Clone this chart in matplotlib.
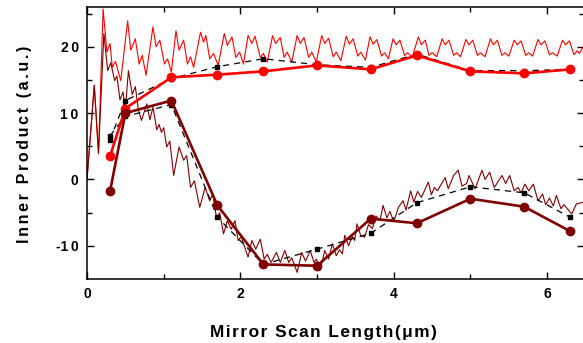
import matplotlib
matplotlib.use("Agg")
import matplotlib.pyplot as plt
from matplotlib.ticker import FixedLocator, FuncFormatter

# scan lengths of the sampled points (um)
scan_x = [0.3, 0.5, 1.1, 1.7, 2.3, 3.0, 3.7, 4.3, 5.0, 5.7, 6.3]

# upper set: measured (red) and fitted (black dashed)
upper_meas = [3.5, 10.7, 15.4, 15.8, 16.3, 17.2, 16.6, 18.7, 16.3, 16.0, 16.6]
upper_fit = [6.0, 11.9, 15.2, 17.0, 18.2, 17.3, 16.9, 18.9, 16.4, 16.4, 16.6]

# lower set: measured (dark red) and fitted (black dashed)
lower_meas = [-1.8, 10.0, 11.9, -3.9, -12.8, -13.0, -5.9, -6.6, -2.9, -4.1, -7.8]
lower_fit = [6.6, 9.5, 11.3, -5.7, -12.8, -10.5, -8.1, -3.5, -1.1, -2.0, -5.7]

upper_trace_x = [0.00, 0.095, 0.15, 0.21, 0.26, 0.30, 0.33, 0.37, 0.44, 0.53, 0.57, 0.63,
                 0.68, 0.72, 0.77, 0.86, 0.90, 0.95, 1.01, 1.05, 1.10, 1.16, 1.20, 1.26,
                 1.31, 1.35, 1.39, 1.48, 1.52, 1.55, 1.60, 1.65, 1.71, 1.79, 1.83, 1.89,
                 1.94, 1.99, 2.04, 2.10, 2.15, 2.19, 2.26, 2.30, 2.35, 2.42, 2.46, 2.52,
                 2.57, 2.61, 2.67, 2.74, 2.78, 2.83, 2.89, 2.93, 2.99, 3.06, 3.10, 3.15,
                 3.21, 3.25, 3.31, 3.38, 3.42, 3.47, 3.53, 3.57, 3.63, 3.69, 3.73, 3.78,
                 3.84, 3.88, 3.93, 3.99, 4.03, 4.08, 4.14, 4.18, 4.24, 4.32, 4.36, 4.41,
                 4.46, 4.50, 4.56, 4.63, 4.67, 4.72, 4.78, 4.82, 4.87, 4.94, 4.98, 5.03,
                 5.09, 5.13, 5.19, 5.26, 5.30, 5.35, 5.41, 5.45, 5.50, 5.57, 5.61, 5.66,
                 5.72, 5.76, 5.81, 5.88, 5.92, 5.97, 6.03, 6.07, 6.13, 6.20, 6.24, 6.29,
                 6.35, 6.39, 6.42, 6.48]
upper_trace_y = [0.0, 14.2, 3.9, 25.7, 19.2, 20.5, 16.9, 17.8, 14.9, 23.9, 19.5, 21.2,
                 17.4, 18.7, 15.7, 23.0, 20.0, 21.0, 17.4, 18.2, 16.2, 22.4, 19.5, 21.0,
                 17.4, 18.5, 16.9, 22.2, 20.7, 21.7, 18.2, 19.0, 17.2, 22.0, 20.2, 21.5,
                 18.4, 19.2, 17.4, 21.7, 20.5, 21.6, 18.4, 19.0, 17.7, 21.7, 20.5, 21.4,
                 18.4, 19.2, 17.7, 21.7, 20.5, 21.4, 18.4, 19.2, 17.7, 21.7, 20.5, 21.3,
                 18.5, 19.2, 17.9, 21.6, 20.4, 21.2, 18.6, 19.2, 18.0, 21.5, 20.4, 21.1,
                 18.6, 19.1, 18.2, 21.2, 20.3, 21.0, 18.7, 19.1, 18.4, 21.5, 20.3, 21.0,
                 18.7, 19.1, 18.5, 21.2, 20.3, 21.0, 18.7, 19.1, 18.5, 21.1, 20.3, 21.0,
                 18.7, 19.1, 18.5, 21.2, 20.3, 21.0, 18.7, 19.1, 18.6, 21.0, 20.3, 20.9,
                 18.7, 19.1, 18.6, 21.1, 20.3, 20.9, 18.8, 19.1, 18.6, 21.0, 20.3, 20.9,
                 18.8, 19.4, 19.0, 20.2]

lower_trace_x = [0.00, 0.095, 0.15, 0.22, 0.27, 0.31, 0.36, 0.39, 0.43, 0.47, 0.50, 0.54,
                 0.59, 0.63, 0.67, 0.71, 0.78, 0.82, 0.86, 0.91, 0.94, 0.97, 1.00, 1.04,
                 1.08, 1.13, 1.20, 1.26, 1.30, 1.35, 1.40, 1.47, 1.54, 1.60, 1.64, 1.69,
                 1.73, 1.78, 1.83, 1.88, 1.93, 1.97, 2.01, 2.10, 2.15, 2.20, 2.26, 2.31,
                 2.35, 2.40, 2.47, 2.52, 2.58, 2.63, 2.67, 2.74, 2.80, 2.85, 2.91, 2.96,
                 2.99, 3.04, 3.10, 3.15, 3.20, 3.25, 3.29, 3.33, 3.36, 3.41, 3.46, 3.49,
                 3.52, 3.57, 3.62, 3.67, 3.72, 3.77, 3.82, 3.86, 3.91, 3.95, 4.00, 4.06,
                 4.12, 4.16, 4.22, 4.26, 4.31, 4.36, 4.45, 4.49, 4.53, 4.57, 4.67, 4.71,
                 4.78, 4.84, 4.89, 4.95, 4.98, 5.06, 5.15, 5.19, 5.25, 5.31, 5.35, 5.41,
                 5.46, 5.51, 5.57, 5.62, 5.66, 5.71, 5.76, 5.82, 5.88, 5.94, 5.98, 6.03,
                 6.08, 6.12, 6.18, 6.22, 6.32, 6.38, 6.48]
lower_trace_y = [0.0, 14.2, 3.9, 22.0, 16.4, 17.6, 14.9, 15.6, 12.0, 13.2, 10.5, 16.4,
                 12.8, 14.0, 10.5, 8.9, 11.4, 9.0, 10.9, 7.5, 8.3, 7.1, 7.8, 4.9,
                 5.8, 0.6, 4.9, 2.9, 3.6, -1.2, -0.2, -4.2, -1.2, -3.2, -2.2, -5.9,
                 -5.0, -8.2, -6.2, -7.5, -6.2, -9.2, -8.6, -11.7, -9.2, -10.5, -9.0, -12.0,
                 -11.3, -12.5, -11.0, -12.5, -10.7, -12.5, -11.8, -14.0, -11.0, -12.3, -10.7, -12.5,
                 -12.0, -13.7, -10.7, -12.0, -9.7, -11.5, -10.6, -11.2, -8.4, -10.0, -8.6, -9.2,
                 -6.7, -8.5, -8.7, -6.8, -7.4, -5.5, -6.2, -3.9, -5.8, -4.8, -6.4, -4.2,
                 -3.2, -4.6, -1.7, -3.4, -1.8, -2.7, -0.4, -2.3, -1.2, -1.7, 0.3, -1.4,
                 0.6, 1.4, -1.0, -0.6, 0.6, -1.4, 1.4, 0.0, 1.1, -1.2, -0.5, 0.6,
                 -0.6, 0.6, -1.7, -1.2, -2.0, -0.7, -1.7, -0.7, -3.2, -2.2, -3.8, -2.8,
                 -4.0, -2.4, -4.4, -3.8, -5.2, -3.7, -3.4]

x_major = [0, 2, 4, 6]
x_minor = [1, 3, 5]
y_major = [-10, 0, 10, 20]
y_minor = [-5, 5, 15, 25]

RED = "#ff0000"
DARK = "#800000"
FONT = ["Liberation Sans", "DejaVu Sans"]
plt.rcParams["font.family"] = FONT
plt.rcParams["font.weight"] = "bold"

W, H = 583, 343
fig = plt.figure(figsize=(W / 100, H / 100), dpi=100)
ax = fig.add_axes([87 / W, (H - 279) / H, (584 - 87) / W, (279 - 7) / H])

ax.plot(upper_trace_x, upper_trace_y, color=RED, lw=0.8, solid_joinstyle="round")
ax.plot(lower_trace_x, lower_trace_y, color=DARK, lw=0.8, solid_joinstyle="round")

ax.plot(scan_x, upper_fit, color="black", lw=0.9, ls=(0, (5, 4)),
        marker="s", ms=3.5)
ax.plot(scan_x, lower_fit, color="black", lw=0.9, ls=(0, (5, 4)),
        marker="s", ms=3.5)

ax.plot(scan_x, upper_meas, color=RED, lw=1.9, marker="o", ms=6)
ax.plot(scan_x, lower_meas, color=DARK, lw=1.9, marker="o", ms=6)

ax.set_xlim(0, 6.48)
ax.set_ylim(-15, 26)

ax.xaxis.set_major_locator(FixedLocator(x_major))
ax.xaxis.set_minor_locator(FixedLocator(x_minor))
ax.yaxis.set_major_locator(FixedLocator(y_major))
ax.yaxis.set_minor_locator(FixedLocator(y_minor))


def spaced(v, pos):
    s = str(int(v))
    sign = "-" if s.startswith("-") else ""
    return sign + "\u2009".join(s.lstrip("-"))


ax.xaxis.set_major_formatter(FuncFormatter(spaced))
ax.yaxis.set_major_formatter(FuncFormatter(spaced))

ax.tick_params(which="both", direction="in", top=True, right=True, width=1.0)
ax.tick_params(which="major", length=5, labelsize=10, pad=6)
ax.tick_params(which="minor", length=3.5)
for lab in ax.get_xticklabels() + ax.get_yticklabels():
    lab.set_fontweight("bold")
for s in ax.spines.values():
    s.set_linewidth(1.1)

ylab = "\u2006".join("Inner Product (a.u.)")
xlab = "\u200a".join("Mirror Scan Length(\u03bcm)")
fig.text(28.5 / W, (H - 243) / H, ylab, rotation=90, rotation_mode="anchor",
         ha="left", va="baseline", fontsize=11.5, fontweight="bold")
fig.text(210 / W, (H - 337) / H, xlab, ha="left", va="baseline",
         fontsize=12.4, fontweight="bold")

fig.savefig("out.png", dpi=100)
